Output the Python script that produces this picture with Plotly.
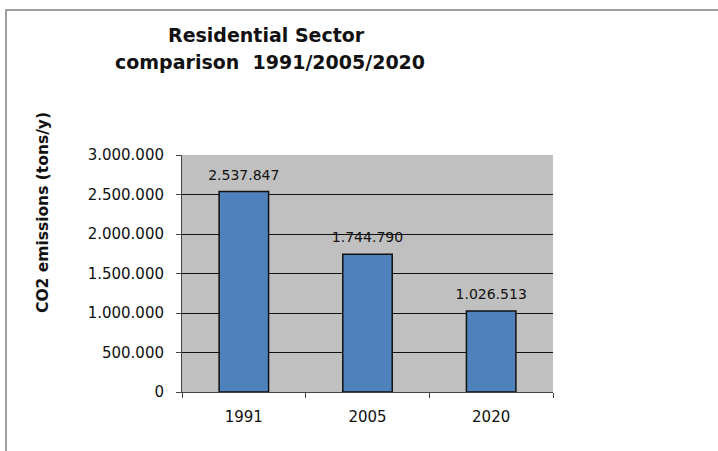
import plotly.graph_objects as go

years = ["1991", "2005", "2020"]
emissions = [2537847, 1744790, 1026513]
y_ticks = [0, 500000, 1000000, 1500000, 2000000, 2500000, 3000000]

W, H = 718, 451
L, R, T, B = 182, 553, 155, 392
pw, ph = R - L, B - T

def px(x):
    return (x - L) / pw

def py(y):
    return (B - y) / ph

fig = go.Figure()
fig.add_trace(go.Bar(
    x=years, y=emissions, width=0.4,
    marker=dict(color="#4F81BD", line=dict(color="#111111", width=1.5)),
    hoverinfo="skip",
))
fig.add_trace(go.Scatter(
    x=years, y=emissions, mode="markers+text",
    text=[f"{v:,d}".replace(",", ".") for v in emissions],
    textposition="top center",
    marker=dict(size=12, opacity=0),
    textfont=dict(size=14, color="#111111"),
    hoverinfo="skip", cliponaxis=False,
))

fig.update_layout(
    width=W, height=H,
    margin=dict(l=L, r=W - R, t=T, b=H - B, pad=0),
    paper_bgcolor="white", plot_bgcolor="#C0C0C0",
    separators=",.",
    showlegend=False,
    font=dict(family="DejaVu Sans", size=15, color="#111111"),
    xaxis=dict(
        type="category", range=[-0.5, 2.5], tickson="boundaries",
        ticks="outside", ticklen=5, tickcolor="#444444",
        showline=True, linecolor="#444444", linewidth=1,
        showgrid=False, ticklabelstandoff=11,
        tickfont=dict(size=15),
    ),
    yaxis=dict(
        range=[0, 3000000], tickvals=y_ticks, tickformat=",d",
        ticks="outside", ticklen=5, tickcolor="#444444",
        showline=True, linecolor="#444444", linewidth=1,
        showgrid=True, gridcolor="#111111", gridwidth=1,
        zeroline=False, ticklabelstandoff=9,
        tickfont=dict(size=15),
    ),
    shapes=[dict(
        type="rect", xref="paper", yref="paper",
        x0=px(6), x1=px(W + 20), y0=py(H + 20), y1=py(10),
        line=dict(color="#808080", width=1.5), fillcolor="rgba(0,0,0,0)",
    )],
    annotations=[
        dict(text="<b>Residential Sector</b>", xref="paper", yref="paper",
             x=px(266), y=py(35), showarrow=False, xanchor="center", yanchor="middle",
             font=dict(size=19, color="#111111")),
        dict(text="<b>comparison  1991/2005/2020</b>", xref="paper", yref="paper",
             x=px(270), y=py(62), showarrow=False, xanchor="center", yanchor="middle",
             font=dict(size=19, color="#111111")),
        dict(text="<b>CO2 emissions (tons/y)</b>", xref="paper", yref="paper",
             x=px(43), y=py(213), showarrow=False, xanchor="center", yanchor="middle",
             textangle=-90, font=dict(size=15.5, color="#111111")),
    ],
)

fig.write_html("out.html", config={"displayModeBar": False},
               post_script="document.body.style.margin='0';")
